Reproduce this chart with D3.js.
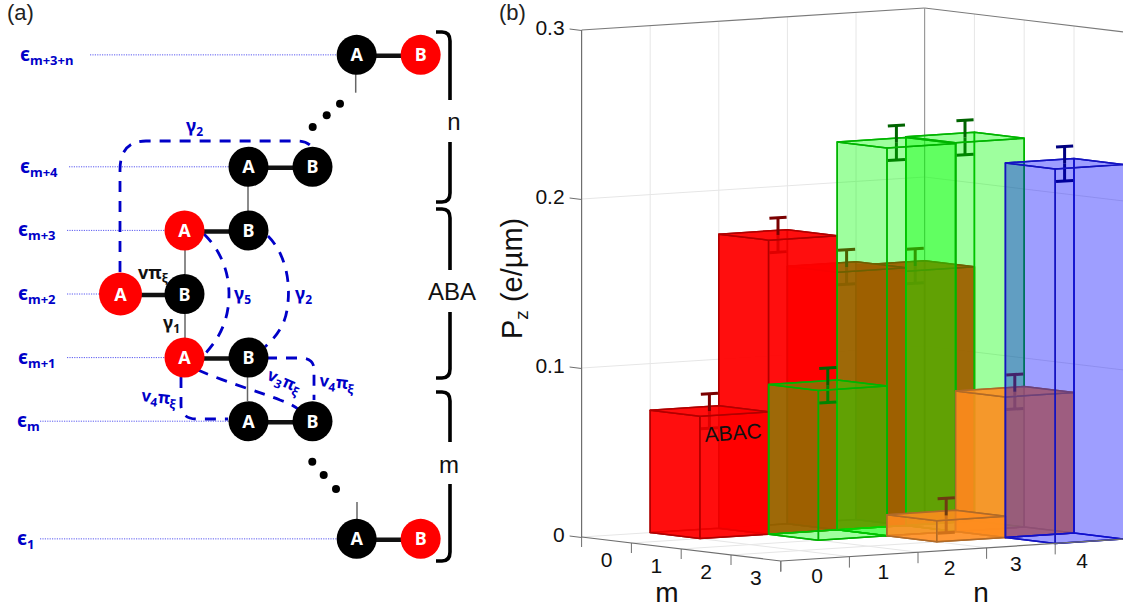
<!DOCTYPE html>
<html>
<head>
<meta charset="utf-8">
<script src="https://cdn.jsdelivr.net/npm/d3@7"></script>
<style>
  html, body { margin: 0; padding: 0; background: #fff; }
  svg { display: block; font-family: "Liberation Sans", Arial, sans-serif; }
</style>
</head>
<body>
<svg id="chart" width="1123" height="612"></svg>
<script>
// (b) bar heights, one list per m row, index is n. null = no bar
const nLabels = [0, 1, 2, 3, 4];
const mLabels = [0, 1, 2, 3];
const zTicks = [0, 0.1, 0.2, 0.3];
const m0Values = [null, 0.0724, 0.174, 0.1524, 0.1504];
const m1Values = [null, null, 0.0886, 0.2295, 0.230];
const m2Values = [null, null, null, 0.0125, 0.0831];
const m3Values = [null, null, null, null, 0.2216];
const errorHalf = 0.0102;

// (a) level stack
const levelNames = ['m+3+n', 'm+4', 'm+3', 'm+2', 'm+1', 'm', '1'];
const levelRows = [-1.76, 0, 1, 2, 3, 4, 5.85];
const levelCols = [3.69, 2, 1, 0, 1, 2, 3.69];
const redSites = ['B', '', 'A', 'A', 'A', '', 'B'];
const levelLabelX = [20, 20, 18, 18, 18, 17, 17];
const levelLineStart = [90, 69, 67, 67, 67, 40, 40];

const svg = d3.select('#chart');

/* Panel b */

// Scales of the oblique projection
const nX = d3.scaleLinear().domain([0, 5]).range([0, 343]);
const nY = d3.scaleLinear().domain([0, 5]).range([0, -22]);
const mX = d3.scaleLinear().domain([0, 4]).range([0, 199.2]);
const mY = d3.scaleLinear().domain([0, 4]).range([0, 24]);
const zScale = d3.scaleLinear().domain([0, 0.3]).range([537, 30]);

// n tick labels sit a little tighter than the ticks
const nLabelX = d3.scaleLinear().domain([0, 4]).range([817, 1082]);
const nLabelY = d3.scaleLinear().domain([0, 4]).range([583, 567.5]);

const project = (m, n, z) => [581.6 + nX(n) + mX(m), zScale(z) + nY(n) + mY(m)];
const line = d3.line();
const poly = pts => line(pts) + 'Z';

const b = svg.append('g').attr('id', 'panel-b');

function seg(g, p, q, color, width) {
    g.append('line')
     .attr('x1', p[0]).attr('y1', p[1])
     .attr('x2', q[0]).attr('y2', q[1])
     .attr('stroke', color)
     .attr('stroke-width', width);
}

function drawGrid() {
    let g = b.append('g').attr('id', 'grid');
    let gridColor = '#e6e6e6';

    // Walls
    zTicks.slice(1, 3).forEach(z => {
        seg(g, project(0, 0, z), project(0, 5, z), gridColor, 1);
        seg(g, project(0, 5, z), project(4, 5, z), gridColor, 1);
    });
    d3.range(1, 5).forEach(n => seg(g, project(0, n, 0), project(0, n, 0.3), gridColor, 1));
    d3.range(1, 4).forEach(m => seg(g, project(m, 5, 0), project(m, 5, 0.3), gridColor, 1));

    // Floor
    d3.range(1, 5).forEach(n => seg(g, project(0, n, 0), project(4, n, 0), gridColor, 1));
    d3.range(1, 4).forEach(m => seg(g, project(m, 0, 0), project(m, 5, 0), gridColor, 1));
    seg(g, project(0, 0, 0), project(0, 5, 0), gridColor, 1);
    seg(g, project(0, 5, 0), project(4, 5, 0), gridColor, 1);

    // Outer box edges
    let edge = '#7a7a7a';
    seg(g, project(0, 0, 0.3), project(0, 5, 0.3), edge, 1.2);
    seg(g, project(0, 5, 0.3), project(4, 5, 0.3), edge, 1.2);
    seg(g, project(0, 5, 0), project(0, 5, 0.3), '#9a9a9a', 1.2);
}

function drawBar(g, m, n, value, style) {
    let top = value, n2 = n + 1, m2 = m + 1;
    let face = (pts, kind) => g.append('path')
        .attr('d', poly(pts))
        .attr('fill', style.fill)
        .attr('fill-opacity', style.alpha)
        .attr('stroke', style.edge)
        .attr('stroke-width', 1.5)
        .attr('stroke-linejoin', 'round')
        .attr('class', kind);

    // Back faces
    face([project(m, n, 0), project(m, n2, 0), project(m, n2, top), project(m, n, top)], 'back');
    face([project(m, n2, 0), project(m2, n2, 0), project(m2, n2, top), project(m, n2, top)], 'back');
    face([project(m, n, 0), project(m, n2, 0), project(m2, n2, 0), project(m2, n, 0)], 'bottom');

    // Error bar, lower half is inside the bar
    let cm = m + 0.5, cn = n + 0.5, cap = 0.125;
    let lo = value - errorHalf, hi = value + errorHalf;
    seg(g, project(cm, cn, lo), project(cm, cn, value), style.err, 3);
    seg(g, project(cm, cn - cap, lo), project(cm, cn + cap, lo), style.err, 3);

    // Front faces
    face([project(m, n, 0), project(m2, n, 0), project(m2, n, top), project(m, n, top)], 'front');
    face([project(m2, n, 0), project(m2, n2, 0), project(m2, n2, top), project(m2, n, top)], 'front');
    face([project(m, n, top), project(m, n2, top), project(m2, n2, top), project(m2, n, top)], 'top');

    // Upper half sticks out of the top
    seg(g, project(cm, cn, value), project(cm, cn, hi), style.err, 3);
    seg(g, project(cm, cn - cap, hi), project(cm, cn + cap, hi), style.err, 3);
}

function drawBars() {
    let g = b.append('g').attr('id', 'bars');
    let rows = [m0Values, m1Values, m2Values, m3Values];
    let styles = [
        { fill: '#ff0000', alpha: 0.76, edge: '#b00000', err: '#7a0000' },
        { fill: '#00ff00', alpha: 0.21, edge: '#00b400', err: '#006400' },
        { fill: '#ff8c1e', alpha: 0.68, edge: '#b06a28', err: '#6e3a12' },
        { fill: '#0000ff', alpha: 0.21, edge: '#1414c0', err: '#000080' }
    ];

    // Painter order: far m row first, and high n first inside a row
    rows.forEach((values, m) => {
        d3.range(values.length - 1, -1, -1).forEach(n => {
            if (values[n] !== null) drawBar(g, m, n, values[n], styles[m]);
        });
    });
}

function drawAxes() {
    let g = b.append('g').attr('id', 'axes');
    let edge = '#6e6e6e';

    // z axis
    let zAxis = d3.axisLeft(zScale).tickValues(zTicks).tickFormat(d => d === 0 ? '0' : d3.format('.1f')(d)).tickSize(12);
    let za = g.append('g').attr('transform', 'translate(581.6,0)').call(zAxis);
    za.select('.domain').attr('stroke', edge).attr('stroke-width', 1.2).attr('d', `M0,${zScale(0.3)}V${zScale(0)}`);
    za.selectAll('.tick line').attr('stroke', edge).attr('stroke-width', 1).attr('y2', -1.5);
    za.selectAll('.tick text').attr('font-size', 21).attr('fill', '#111').attr('x', -17).attr('dy', '0.2em')
      .attr('font-family', '"Liberation Sans", Arial, sans-serif');

    // m axis
    seg(g, project(0, 0, 0), project(4, 0, 0), edge, 1.2);
    d3.range(0, 5).forEach(m => {
        let p = project(m, 0, 0);
        seg(g, p, [p[0], p[1] + 10], edge, 1);
    });
    mLabels.forEach(m => {
        let p = project(m + 0.5, 0, 0);
        g.append('text').attr('x', p[0]).attr('y', p[1] + 27)
         .attr('text-anchor', 'middle').attr('font-size', 21).attr('fill', '#111').text(m);
    });

    // n axis
    seg(g, project(4, 0, 0), project(4, 5, 0), edge, 1.2);
    d3.range(0, 5).forEach(n => {
        let p = project(4, n, 0);
        seg(g, p, [p[0], p[1] + 11], edge, 1);
    });
    nLabels.forEach(n => {
        g.append('text').attr('x', nLabelX(n)).attr('y', nLabelY(n))
         .attr('text-anchor', 'middle').attr('font-size', 21).attr('fill', '#111').text(n);
    });

    // Axis titles
    g.append('text').attr('x', 667).attr('y', 602).attr('text-anchor', 'middle').attr('font-size', 28).attr('fill', '#111').text('m');
    g.append('text').attr('x', 981).attr('y', 602).attr('text-anchor', 'middle').attr('font-size', 28).attr('fill', '#111').text('n');

    let title = g.append('text').attr('transform', 'translate(522,339) rotate(-90)').attr('font-size', 29).attr('fill', '#111');
    title.append('tspan').text('P');
    title.append('tspan').attr('font-size', 19).attr('dy', 6).text('z');
    title.append('tspan').attr('dy', -6).text(' (e/µm)');

    g.append('text').attr('x', 705).attr('y', 442).attr('font-size', 21).attr('fill', '#111')
     .attr('transform', 'rotate(-4 705 442)').text('ABAC');
}

drawGrid();
drawBars();
drawAxes();
svg.append('text').attr('x', 499).attr('y', 20).attr('font-size', 22).attr('fill', '#222').text('(b)');

/* Panel a */

const colX = d3.scaleLinear().domain([0, 1]).range([120.5, 184.5]);
const rowY = d3.scaleLinear().domain([0, 1]).range([166.8, 230.4]);
const a = svg.append('g').attr('id', 'panel-a');
const blue = '#0000c8';
const boldFont = '"Noto Sans", "DejaVu Sans", sans-serif';

a.append('text').attr('x', 7).attr('y', 20).attr('font-size', 22).attr('fill', '#222').text('(a)');

// Level lines
levelNames.forEach((name, i) => {
    a.append('line')
     .attr('x1', levelLineStart[i]).attr('x2', colX(levelCols[i]) - 18)
     .attr('y1', rowY(levelRows[i])).attr('y2', rowY(levelRows[i]))
     .attr('stroke', '#5a5af0').attr('stroke-width', 1).attr('stroke-dasharray', '1.2 1.2');
    let t = a.append('text')
     .attr('x', levelLabelX[i]).attr('y', rowY(levelRows[i]) + 6)
     .attr('fill', blue).attr('font-weight', 'bold')
     .attr('font-family', boldFont).attr('font-size', 19);
    t.append('tspan').text('ϵ');
    t.append('tspan').attr('dy', 4).attr('font-size', 13).text(name);
});

// Dashed hopping paths
const hopPaths = [
    'M120,272 V170 Q120,141 146,141 H298 Q306,141 311,146',
    'M204,234 C224,254 232,280 228,308 C225,328 216,342 204,355',
    'M268,236 C284,252 292,280 287,310 C285,324 277,336 265,347',
    'M266,358 H300 Q313,358 314,368 V400',
    'M181,377 V406 Q182,419 197,419 H228',
    'M198,370 C225,382 260,392 280,400 Q292,404 298,409'
];
a.selectAll('.hop').data(hopPaths).join('path')
 .attr('class', 'hop').attr('d', d => d).attr('fill', 'none')
 .attr('stroke', blue).attr('stroke-width', 2.8).attr('stroke-dasharray', '11 9');

// Interlayer bonds
const thinBonds = [
    [355.7, 74, 92.7], [248, 186, 211], [185, 250, 274], [185, 314, 338], [247.5, 376, 401], [357, 502, 519]
];
thinBonds.forEach(d => a.append('line').attr('x1', d[0]).attr('x2', d[0]).attr('y1', d[1]).attr('y2', d[2])
    .attr('stroke', '#666').attr('stroke-width', 1.5));

// Dimers
levelNames.forEach((name, i) => {
    let y = rowY(levelRows[i]), xA = colX(levelCols[i]), xB = colX(levelCols[i] + 1);
    a.append('line').attr('x1', xA).attr('x2', xB).attr('y1', y + 1).attr('y2', y + 1)
     .attr('stroke', '#111').attr('stroke-width', 4.5);
    [['A', xA], ['B', xB]].forEach(([site, x]) => {
        a.append('circle').attr('cx', x).attr('cy', y).attr('r', site === 'A' && name === 'm+2' ? 21.5 : 20)
         .attr('fill', redSites[i] === site ? '#ff0000' : '#000');
        a.append('text').attr('x', x).attr('y', y + 6.5).attr('text-anchor', 'middle')
         .attr('fill', '#fff').attr('font-weight', 'bold')
         .attr('font-family', boldFont).attr('font-size', 18).text(site);
    });
});

// Continuation dots
const dotsX = [340, 326.7, 312.7, 312.3, 323.7, 336];
const dotsY = [103.7, 115.3, 127, 461.7, 475, 489];
dotsX.forEach((x, i) => a.append('circle').attr('cx', x).attr('cy', dotsY[i]).attr('r', 4).attr('fill', '#000'));

// Braces with their labels
const bracePaths = [
    'M436,32 H442 Q450,32 450,41 V100',
    'M450,142 V193 Q450,202 442,202 H436',
    'M436,209 H442 Q450,209 450,218 V270',
    'M450,312 V369 Q450,378 442,378 H436',
    'M436,392 H442 Q450,392 450,401 V442',
    'M450,484 V552 Q450,561 442,561 H436'
];
a.selectAll('.brace').data(bracePaths).join('path')
 .attr('class', 'brace').attr('d', d => d).attr('fill', 'none')
 .attr('stroke', '#000').attr('stroke-width', 3.6);
[['n', 454, 130], ['ABA', 452, 300], ['m', 449, 473]].forEach(d => {
    a.append('text').attr('x', d[1]).attr('y', d[2]).attr('text-anchor', 'middle')
     .attr('font-size', 24).attr('fill', '#111').text(d[0]);
});

// Hopping labels, [main, sub, x, y, angle, color]
const hopLabels = [
    ['γ', '2', 186, 132, 0, blue],
    ['γ', '5', 234, 300, 0, blue],
    ['γ', '2', 295, 300, 0, blue],
    ['γ', '1', 163, 329, 0, '#111'],
    ['vπ', 'ξ', 138, 279, 0, '#111'],
    ['v', '4', 141, 401, 6, blue],
    ['v', '4', 319, 386, 6, blue],
    ['v', '3', 266, 379, 24, blue]
];
hopLabels.forEach(d => {
    let size = d[0] === 'v' ? 16.5 : 18;
    let t = a.append('text').attr('transform', `translate(${d[2]},${d[3]}) rotate(${d[4]})`)
     .attr('fill', d[5]).attr('font-weight', 'bold')
     .attr('font-family', boldFont).attr('font-size', size);
    t.append('tspan').text(d[0]);
    t.append('tspan').attr('dy', 4).attr('font-size', 12).text(d[1]);
    if (d[0] === 'v') {
        t.append('tspan').attr('dy', -4).text('π');
        t.append('tspan').attr('dy', 4).attr('font-size', 12).text('ξ');
    }
});
</script>
</body>
</html>
